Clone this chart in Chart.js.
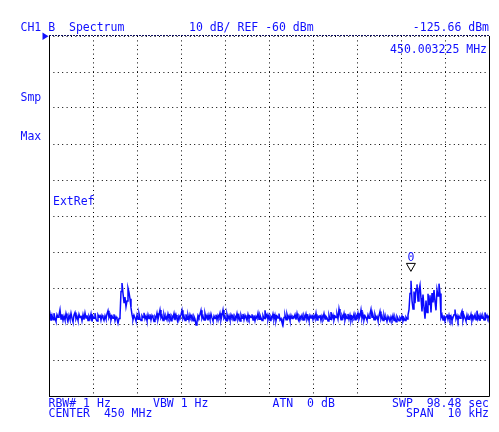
<!DOCTYPE html>
<html>
<head>
<meta charset="utf-8">
<script src="https://cdn.jsdelivr.net/npm/chart.js@4.4.1/dist/chart.umd.min.js"></script>
<style>
  html, body { margin: 0; padding: 0; background: #fff; }
  canvas { display: block; }
</style>
</head>
<body>
<canvas id="spectrum" width="499" height="432"></canvas>
<script>
// Instrument settings
const centerHz = 450000000;
const spanHz = 10000;
const refLevel = -60;
const dbPerDiv = 10;
const divisions = 10;

// Trace, 441 points across the span (dBm), one per screen column
const traceDbm = [
  -138.4, -137.2, -139.1, -137.6, -138.8, -137.0, -138.5, -139.3, -137.4, -138.1,
  -137.5, -136.0, -138.6, -137.3, -139.0, -137.8, -138.9, -137.1, -138.3, -139.2,
  -137.6, -138.7, -137.0, -138.4, -139.4, -137.5, -136.8, -138.6, -137.9, -139.0,
  -137.3, -138.2, -137.7, -139.1, -137.4, -138.8, -136.9, -138.3, -137.6, -139.0,
  -137.8, -138.5, -137.2, -139.3, -137.9, -138.4, -137.0, -138.7, -139.2, -137.5,
  -138.1, -137.4, -138.9, -137.6, -138.3, -139.0, -137.7, -138.6, -137.2, -136.3,
  -138.2, -137.5, -138.9, -137.8, -138.4, -137.3, -139.1, -138.0, -138.6, -139.8,
  -138.5, -137.9, -131.0, -128.6, -131.5, -134.0, -132.5, -135.2, -133.6, -130.0,
  -131.2, -133.0, -135.5, -137.4, -138.8, -137.6, -138.3, -139.2, -137.5, -138.7,
  -137.1, -138.4, -139.0, -137.7, -138.2, -136.9, -138.6, -137.8, -139.1, -137.4,
  -138.5, -137.3, -138.9, -137.6, -138.2, -139.3, -137.9, -138.4, -137.0, -138.7,
  -137.5, -136.1, -138.3, -137.7, -139.0, -137.4, -138.6, -137.9, -138.8, -137.2,
  -138.4, -137.6, -139.1, -137.8, -138.3, -137.1, -138.9, -137.5, -138.6, -139.2,
  -137.7, -138.2, -137.4, -136.2, -138.5, -137.8, -139.0, -137.3, -138.7, -137.6,
  -138.9, -137.4, -138.3, -137.7, -139.1, -137.9, -138.6, -140.3, -139.4, -137.6,
  -138.2, -137.3, -136.2, -138.5, -137.8, -138.9, -137.1, -138.4, -137.6, -139.0,
  -137.5, -138.7, -137.2, -138.3, -139.2, -137.8, -138.5, -137.4, -138.9, -137.6,
  -138.2, -137.0, -138.8, -137.5, -136.1, -138.4, -137.9, -139.1, -137.3, -138.6,
  -137.7, -138.9, -137.4, -138.2, -137.6, -139.0, -137.9, -138.5, -137.1, -138.7,
  -137.8, -139.2, -137.5, -138.4, -137.2, -138.8, -137.6, -138.3, -139.0, -137.4,
  -138.6, -137.8, -138.2, -137.3, -138.9, -137.6, -139.1, -137.9, -138.4, -137.0,
  -138.7, -137.5, -138.3, -139.0, -137.7, -138.5, -136.2, -138.1, -137.4, -138.8,
  -137.6, -139.0, -137.9, -138.4, -137.2, -138.7, -137.5, -139.1, -137.8, -138.3,
  -137.1, -138.9, -138.5, -139.6, -140.3, -138.2, -137.5, -138.8, -137.3, -138.4,
  -137.7, -139.0, -137.6, -138.5, -137.9, -138.2, -137.4, -138.8, -137.1, -138.6,
  -139.2, -137.8, -138.3, -137.5, -138.9, -137.6, -138.4, -137.2, -138.7, -137.9,
  -139.1, -137.6, -138.3, -137.4, -138.8, -137.7, -138.5, -137.0, -138.9, -137.8,
  -138.2, -137.5, -139.0, -137.7, -138.4, -137.1, -138.6, -137.9, -138.3, -139.2,
  -137.6, -138.7, -136.7, -138.4, -137.5, -138.9, -137.8, -138.2, -137.3, -138.6,
  -135.8, -137.4, -138.8, -137.6, -138.3, -137.1, -138.9, -137.7, -138.5, -137.2,
  -138.7, -137.5, -139.1, -137.9, -138.4, -137.2, -138.8, -137.6, -138.3, -137.0,
  -138.6, -137.8, -136.1, -138.5, -137.4, -138.9, -137.7, -138.2, -139.0, -137.5,
  -138.4, -137.2, -135.9, -138.1, -137.6, -138.8, -137.4, -138.5, -137.9, -139.1,
  -137.7, -136.5, -138.6, -137.8, -139.0, -137.5, -138.7, -138.2, -139.3, -137.9,
  -138.6, -139.2, -138.0, -138.8, -137.6, -139.0, -138.3, -139.4, -137.9, -138.5,
  -139.1, -138.2, -138.7, -137.8, -139.2, -138.4, -139.0, -138.1, -138.6, -137.5,
  -136.0, -131.5, -128.0, -133.5, -135.8, -131.0, -134.2, -130.2, -129.0, -133.6,
  -130.6, -129.2, -132.8, -136.5, -131.8, -135.4, -138.5, -133.5, -136.8, -131.6,
  -134.6, -132.0, -136.8, -131.4, -134.0, -130.6, -133.8, -136.2, -130.5, -132.2,
  -128.8, -131.5, -138.2, -137.4, -138.9, -137.6, -139.2, -138.0, -137.3, -138.7,
  -137.5, -138.8, -137.9, -139.1, -138.2, -137.4, -136.0, -138.6, -137.7, -139.0,
  -137.8, -138.4, -137.2, -136.4, -138.9, -137.6, -138.3, -139.2, -137.5, -138.7,
  -137.9, -138.5, -137.3, -139.0, -137.8, -138.2, -137.4, -138.8, -136.3, -138.6,
  -137.7, -139.1, -137.5, -138.4, -137.9, -138.9, -136.8, -138.3, -137.6, -138.5,
  -137.8
];

// Marker 0
const markerHz = 450003225;
const markerDbm = -125.66;
const markerLabel = '0';

// Screen annotations: [text, x, y, align]
const headerTexts = [
  ['CH1 B  Spectrum', 20.5, 31, 'left'],
  ['10 dB/ REF -60 dBm', 189, 31, 'left'],
  ['-125.66 dBm', 489, 31, 'right'],
  ['450.003225 MHz', 487, 53, 'right']
];
const sideTexts = [
  ['Smp', 20.5, 100.5, 'left'],
  ['Max', 20.5, 140, 'left'],
  ['ExtRef', 53, 205, 'left']
];
const footerTexts = [
  ['RBW# 1 Hz', 48.5, 407, 'left'],
  ['VBW 1 Hz', 153, 407, 'left'],
  ['ATN  0 dB', 272.5, 407, 'left'],
  ['SWP  98.48 sec', 489, 407, 'right'],
  ['CENTER  450 MHz', 48.5, 417, 'left'],
  ['SPAN  10 kHz', 489, 417, 'right']
];

const TEXT_BLUE = '#1010ff';
const FONT = '11.5px "DejaVu Sans Mono", monospace';

const startHz = centerHz - spanHz / 2;
const stepHz = spanHz / (traceDbm.length - 1);
const tracePoints = traceDbm.map((v, i) => ({ x: startHz + i * stepHz, y: v }));

const screenPlugin = {
    id: 'screen',
    afterDraw(chart) {
        const ctx = chart.ctx;
        const { left, right, top, bottom } = chart.chartArea;
        const xs = chart.scales.x;
        const ys = chart.scales.y;

        ctx.save();
        // frame
        ctx.lineWidth = 1;
        ctx.strokeStyle = '#000';
        ctx.beginPath();
        ctx.moveTo(Math.round(left) + 0.5, Math.round(top));
        ctx.lineTo(Math.round(left) + 0.5, Math.round(bottom) + 0.5);
        ctx.lineTo(Math.round(right) + 0.5, Math.round(bottom) + 0.5);
        ctx.lineTo(Math.round(right) + 0.5, Math.round(top));
        ctx.stroke();
        ctx.strokeStyle = '#101060';
        ctx.setLineDash([2, 1]);
        ctx.beginPath();
        ctx.moveTo(Math.round(left), Math.round(top) - 0.5);
        ctx.lineTo(Math.round(right) + 1, Math.round(top) - 0.5);
        ctx.stroke();
        ctx.setLineDash([]);

        // reference level arrow
        const ry = ys.getPixelForValue(refLevel);
        ctx.fillStyle = TEXT_BLUE;
        ctx.beginPath();
        ctx.moveTo(left - 6.5, ry - 3.5);
        ctx.lineTo(left - 6.5, ry + 4);
        ctx.lineTo(left - 0.5, ry + 0.3);
        ctx.closePath();
        ctx.fill();

        // marker
        const mx = xs.getPixelForValue(markerHz);
        const my = ys.getPixelForValue(markerDbm);
        ctx.strokeStyle = '#000';
        ctx.lineWidth = 1;
        ctx.beginPath();
        ctx.moveTo(mx, my - 1);
        ctx.lineTo(mx - 4.5, my - 9);
        ctx.lineTo(mx + 4.5, my - 9);
        ctx.closePath();
        ctx.stroke();

        ctx.font = FONT;
        ctx.fillStyle = TEXT_BLUE;
        ctx.textBaseline = 'alphabetic';
        ctx.textAlign = 'center';
        ctx.fillText(markerLabel, mx, my - 11);

        [...headerTexts, ...sideTexts, ...footerTexts].forEach(([t, x, y, align]) => {
            ctx.textAlign = align;
            ctx.fillText(t, x, y);
        });
        ctx.restore();
    }
};

const chart = new Chart(document.getElementById('spectrum'), {
    type: 'line',
    data: {
        datasets: [{
            data: tracePoints,
            borderColor: '#0a0aff',
            borderWidth: 1.5,
            pointRadius: 0,
            tension: 0,
            fill: false
        }]
    },
    options: {
        responsive: false,
        animation: false,
        layout: {
            padding: { left: 49, top: 36, right: 10, bottom: 36 }
        },
        plugins: {
            legend: { display: false },
            tooltip: { enabled: false }
        },
        scales: {
            x: {
                type: 'linear',
                min: startHz,
                max: startHz + spanHz,
                ticks: { display: false, stepSize: spanHz / divisions },
                grid: { color: '#000', lineWidth: 1, drawTicks: false },
                border: { display: false, dash: [1, 3.4] }
            },
            y: {
                type: 'linear',
                min: refLevel - dbPerDiv * divisions,
                max: refLevel,
                ticks: { display: false, stepSize: dbPerDiv },
                grid: { color: '#000', lineWidth: 1, drawTicks: false },
                border: { display: false, dash: [1, 3.4] }
            }
        }
    },
    plugins: [screenPlugin]
});
</script>
</body>
</html>
